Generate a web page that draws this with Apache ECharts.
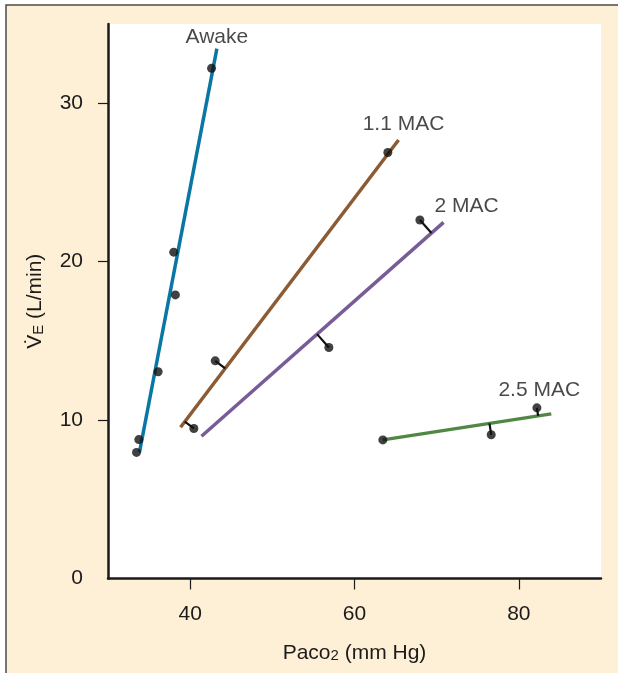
<!DOCTYPE html>
<html><head><meta charset="utf-8">
<script src="https://cdn.jsdelivr.net/npm/echarts@6/dist/echarts.min.js"></script>
<style>html,body{margin:0;padding:0;background:#fff}#c{width:618px;height:673px}</style>
</head><body><div id="c"></div>
<script>
// ---- data ----
const xTickValues = [40, 60, 80];
const yTickValues = [0, 10, 20, 30];
const yTickMarks = [10, 20, 30];
const seriesNames = ['Awake', '1.1 MAC', '2 MAC', '2.5 MAC'];

const awakeLine = [[33.83, 7.97], [43.25, 33.45]];
const awakeDots = [[42.6, 32.2], [38.0, 20.6], [38.2, 17.9], [36.1, 13.05], [33.75, 8.77], [33.47, 7.96]];
const mac11Line = [[38.83, 9.55], [65.36, 27.68]];
const mac11Dots = [[64.06, 26.89], [43.05, 13.74], [40.45, 9.47]];
const mac2Line = [[41.38, 8.98], [70.84, 22.48]];
const mac2Dots = [[67.96, 22.63], [56.88, 14.58]];
const mac25Line = [[63.45, 8.75], [83.95, 10.39]];
const mac25Dots = [[63.45, 8.75], [76.64, 9.07], [82.2, 10.77]];

// ---- styles ----
const FONT = '"Liberation Sans", Arial, Helvetica, sans-serif';
const TXT = '#1c1a1b';
const groups = [
  { name: seriesNames[0], line: awakeLine, dots: awakeDots, color: '#0a76a3', connectors: false, labelOffset: [0, -11] },
  { name: seriesNames[1], line: mac11Line, dots: mac11Dots, color: '#8c5b33', connectors: true, labelOffset: [5, -16] },
  { name: seriesNames[2], line: mac2Line, dots: mac2Dots, color: '#785b97', connectors: true, labelOffset: [23, -16] },
  { name: seriesNames[3], line: mac25Line, dots: mac25Dots, color: '#508843', connectors: true, labelOffset: [-12, -24] }
];

const series = [];
groups.forEach(function (g) {
  series.push({
    type: 'line', name: g.name, data: g.line, symbol: 'none', silent: true, z: 2,
    lineStyle: { color: g.color, width: 3.5, cap: 'butt' }
  });
  if (g.connectors) {
    series.push({
      type: 'custom', coordinateSystem: 'cartesian2d', data: g.dots, z: 3, silent: true,
      encode: { x: 0, y: 1 },
      renderItem: function (params, api) {
        const p = api.coord([api.value(0), api.value(1)]);
        const a = api.coord(g.line[0]), b = api.coord(g.line[1]);
        const dx = b[0] - a[0], dy = b[1] - a[1];
        const t = ((p[0] - a[0]) * dx + (p[1] - a[1]) * dy) / (dx * dx + dy * dy);
        const f = [a[0] + t * dx, a[1] + t * dy];
        return { type: 'line', shape: { x1: p[0], y1: p[1], x2: f[0], y2: f[1] },
          style: { stroke: '#111111', lineWidth: 2.2 } };
      }
    });
  }
  series.push({
    type: 'scatter', data: g.dots, symbol: 'circle', symbolSize: 9, z: 4, silent: true,
    itemStyle: { color: '#111111' }
  });
  series.push({
    type: 'scatter', data: [g.line[1]], symbolSize: 1, z: 5, silent: true,
    itemStyle: { color: 'rgba(0,0,0,0)' },
    label: { show: true, position: 'inside', formatter: g.name, offset: g.labelOffset,
      color: TXT, fontSize: 21, fontFamily: FONT }
  });
});

const chart = echarts.init(document.getElementById('c'));
chart.setOption({
  backgroundColor: '#ffffff',
  animation: false,
  graphic: [{
    type: 'rect', z: -100, silent: true,
    shape: { x: 6, y: 5, width: 700, height: 700 },
    style: { fill: '#fdf0d6', stroke: '#4a4a4a', lineWidth: 1.5 }
  }],
  grid: { left: 108, right: 17, top: 24, bottom: 94.5, show: true, backgroundColor: '#ffffff', borderWidth: 0 },
  xAxis: {
    type: 'value', min: 30, max: 90, interval: 10,
    splitLine: { show: false },
    axisLine: { show: true, onZero: false, lineStyle: { color: TXT, width: 2.5 } },
    axisTick: { show: true, length: 11, customValues: xTickValues, lineStyle: { color: TXT, width: 1.2 } },
    axisLabel: { customValues: xTickValues, margin: 25, color: TXT, fontSize: 21, fontFamily: FONT },
    name: '{a|Paco}{s|2}{a| (mm Hg)}', nameLocation: 'middle', nameGap: 57,
    nameTextStyle: { color: TXT, fontFamily: FONT, rich: {
      a: { fontSize: 21, color: TXT, fontFamily: FONT, verticalAlign: 'bottom', lineHeight: 28 },
      s: { fontSize: 15, color: TXT, fontFamily: FONT, verticalAlign: 'bottom', lineHeight: 15 }
    } }
  },
  yAxis: {
    type: 'value', min: 0, max: 35, interval: 10,
    splitLine: { show: false },
    axisLine: { show: true, onZero: false, lineStyle: { color: TXT, width: 2.5 } },
    axisTick: { show: true, length: 10, customValues: yTickMarks, lineStyle: { color: TXT, width: 1.2 } },
    axisLabel: { customValues: yTickValues, margin: 25, color: TXT, fontSize: 21, fontFamily: FONT },
    name: '{a|V\u0307}{s|E}{a| (L/min)}', nameLocation: 'middle', nameGap: 62, nameRotate: 90,
    nameTextStyle: { color: TXT, fontFamily: FONT, rich: {
      a: { fontSize: 21, color: TXT, fontFamily: FONT, verticalAlign: 'bottom', lineHeight: 28 },
      s: { fontSize: 15, color: TXT, fontFamily: FONT, verticalAlign: 'bottom', lineHeight: 15 }
    } }
  },
  series: series
});
</script>
</body></html>
